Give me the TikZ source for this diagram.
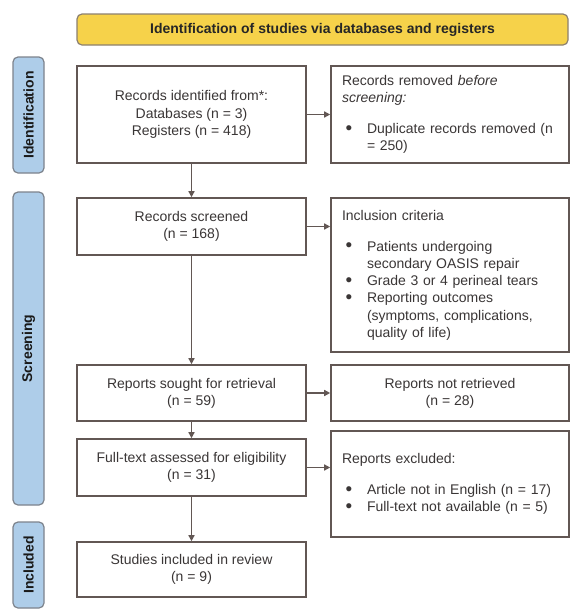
\documentclass[tikz,border=0pt]{standalone}
\usepackage{fontspec}
\usepackage{graphicx}
\setmainfont{Liberation Sans}
\usetikzlibrary{arrows.meta}
\definecolor{edgec}{HTML}{625754}
\definecolor{hdrfill}{HTML}{F6D24A}
\definecolor{hdredge}{HTML}{8C8070}
\definecolor{tabfill}{HTML}{AECDE9}
\definecolor{tabedge}{HTML}{7D838C}
\definecolor{txtc}{HTML}{3A3636}
\newcommand{\bul}{\makebox[25pt][l]{\hspace{3.5pt}\raisebox{-0.5pt}{\scalebox{1.35}{\textbullet}}}}
\newcommand{\cont}{\hspace*{25pt}}
\begin{document}
\begin{tikzpicture}[x=1pt,y=-1pt,
  base/.style={font=\fontsize{14}{17.2}\selectfont, text=txtc},
  cbox/.style={base, draw=edgec, line width=1.6pt, fill=white, rectangle,
    inner sep=0pt, align=center, minimum width=229pt},
  lbox/.style={base, draw=edgec, line width=1.6pt, fill=white, rectangle,
    inner xsep=11pt, inner ysep=0pt, text width=216pt, align=left},
  rcbox/.style={base, draw=edgec, line width=1.6pt, fill=white, rectangle,
    inner sep=0pt, align=center, minimum width=238pt},
  tabbox/.style={draw=tabedge, line width=1.2pt, fill=tabfill, rounded corners=5pt,
    rotate=90, minimum height=31pt, inner sep=0pt,
    font=\fontsize{14}{17}\selectfont\bfseries, text=black!90},
  hdrbox/.style={draw=hdredge, line width=1.2pt, fill=hdrfill, rounded corners=5pt,
    minimum width=491pt, minimum height=31pt, inner sep=0pt,
    font=\fontsize{14}{17}\selectfont\bfseries, text=black!85},
  arr/.style={draw=edgec, line width=1.4pt, -{Triangle[length=6pt,width=6pt]}}
]
\useasboundingbox (0,0) rectangle (571,611);
\fill[white] (0,0) rectangle (571,611);

% header
\node[hdrbox] (hdr) at (322.5,29.5) {Identification of studies via databases and registers};

% side tabs
\node[tabbox, minimum width=116pt] (tid) at (28.5,115) {Identification};
\node[tabbox, minimum width=313pt] (tsc) at (28.5,348.5) {Screening};
\node[tabbox, minimum width=86pt] (tin) at (28.5,565) {Included};

% left column
\node[cbox, minimum height=97pt] (b1) at (191.5,114.5)
  {Records identified from*:\\Databases (n = 3)\\Registers (n = 418)};
\node[cbox, minimum height=57pt] (b2) at (191.5,226.5)
  {Records screened\\(n = 168)};
\node[cbox, minimum height=56pt] (b3) at (191.5,393)
  {Reports sought for retrieval\\(n = 59)};
\node[cbox, minimum height=57pt] (b4) at (191.5,467.5)
  {Full-text assessed for eligibility\\(n = 31)};
\node[cbox, minimum height=55pt] (b5) at (191.5,569.5)
  {Studies included in review\\(n = 9)};

% right column
\node[lbox, minimum height=97pt] (r1) at (450,114.5)
  {Records removed \textit{before}\\\textit{screening:}\\[14pt]
   \bul Duplicate records removed (n\\\cont = 250)};
\node[lbox, minimum height=154pt] (r2) at (450,275)
  {Inclusion criteria\\[14pt]
   \bul Patients undergoing\\\cont secondary OASIS repair\\
   \bul Grade 3 or 4 perineal tears\\
   \bul Reporting outcomes\\\cont (symptoms, complications,\\\cont quality of life)};
\node[rcbox, minimum height=56pt] (r3) at (450,393)
  {Reports not retrieved\\(n = 28)};
\node[lbox, minimum height=106pt] (r4) at (450,484)
  {Reports excluded:\\[14pt]
   \bul Article not in English (n = 17)\\
   \bul Full-text not available (n = 5)};

% vertical arrows
\draw[arr] (b1.south) -- (b2.north);
\draw[arr] (b2.south) -- (b3.north);
\draw[arr] (b3.south) -- (b4.north);
\draw[arr] (b4.south) -- (b5.north);

% horizontal arrows
\draw[arr] (b1.east) -- (b1.east -| r1.west);
\draw[arr] (b2.east) -- (b2.east -| r2.west);
\draw[arr] (b3.east) -- (b3.east -| r3.west);
\draw[arr] (b4.east) -- (b4.east -| r4.west);
\end{tikzpicture}
\end{document}
